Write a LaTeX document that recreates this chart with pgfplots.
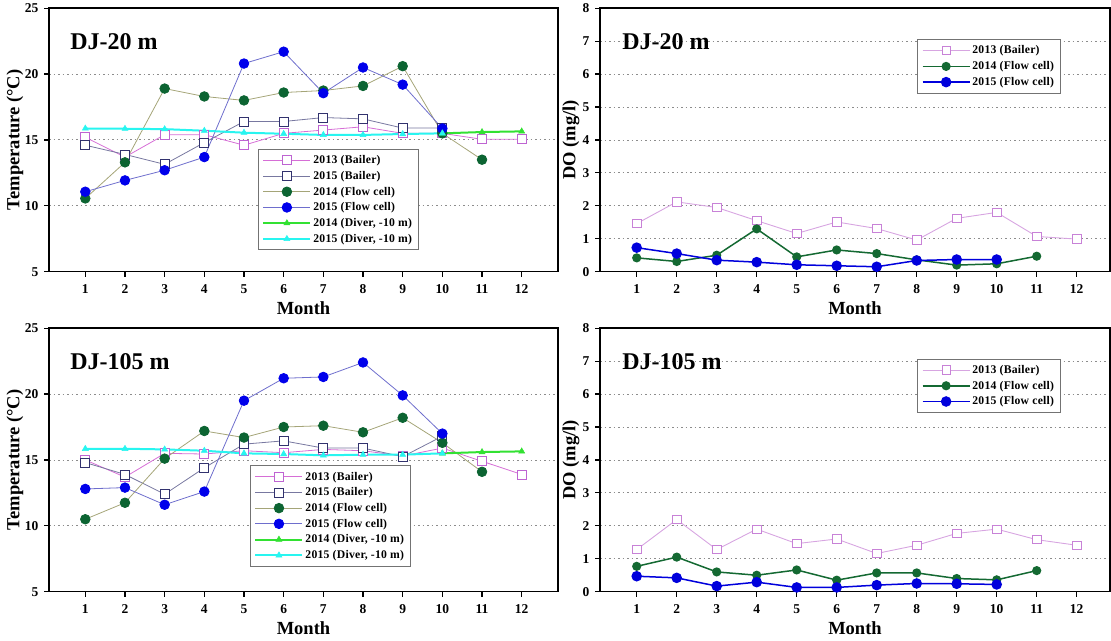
\documentclass[border=0pt]{standalone}
\usepackage{fontspec}
\setmainfont{Liberation Serif}
\usepackage{pgfplots}
\pgfplotsset{compat=1.18}

\definecolor{cAline}{RGB}{214,110,214}
\definecolor{cAmark}{RGB}{190,100,210}
\definecolor{cBline}{RGB}{120,120,160}
\definecolor{cBmark}{RGB}{50,50,110}
\definecolor{cCline}{RGB}{165,165,120}
\definecolor{cCmark}{RGB}{12,100,50}
\definecolor{cDline}{RGB}{110,110,205}
\definecolor{cDmark}{RGB}{0,0,235}
\definecolor{cE}{RGB}{50,225,50}
\definecolor{cF}{RGB}{40,245,240}
\definecolor{dAline}{RGB}{215,165,225}
\definecolor{dAmark}{RGB}{200,130,215}
\definecolor{dC}{RGB}{20,105,50}
\definecolor{dD}{RGB}{0,0,220}

\pgfplotsset{
 legend image code/.code={\draw[mark repeat=2,mark phase=2,#1] plot coordinates {(0pt,0pt) (23.5pt,0pt) (47pt,0pt)};},
 base/.style={scale only axis,
  axis line style={line width=1.5pt},
  tick style={line width=1.2pt, black},
  tick align=outside, major tick length=5pt,
  xtick pos=bottom, ytick pos=left,
  xtick={1,...,12},
  ymajorgrids,
  major grid style={black!45, line width=0.9pt, dash pattern=on 1.5pt off 3pt},
  /pgf/number format/assume math mode=true,
  ticklabel style={font=\fontsize{13.5}{15}\selectfont\bfseries},
  xticklabel style={yshift=-4.5pt},
  yticklabel style={xshift=-2pt},
  label style={font=\fontsize{18.5}{21}\selectfont\bfseries},
  xlabel={Month},
  xlabel style={at={(axis description cs:0.5,-0.14)}, anchor=center},
  legend cell align=left,
  legend style={font=\fontsize{11.7}{13}\selectfont\bfseries\addfontfeature{LetterSpace=2}, draw=black!55, line width=0.8pt,
    anchor=north west, inner xsep=4pt, inner ysep=4pt, row sep=2.1pt,
    nodes={inner sep=2pt, text depth=0.15em}},
 },
 temp/.style={base, width=509pt, height=263.5pt, xmin=0.085, xmax=12.915,
  ymin=5, ymax=25, ytick={5,10,...,25},
  ylabel={Temperature (°C)},
  ylabel style={at={(axis description cs:-0.067,0.5)}, anchor=center}},
 do/.style={base, width=510pt, height=263.5pt, xmin=0.0825, xmax=12.8325,
  ymin=0, ymax=8, ytick={0,...,8},
  ylabel={DO (mg/l)},
  ylabel style={at={(axis description cs:-0.057,0.5)}, anchor=center}},
 sA/.style={color=cAline, line width=0.8pt, mark=square*, mark size=4.5pt, mark options={draw=cAmark, fill=white, line width=0.8pt}},
 sB/.style={color=cBline, line width=0.8pt, mark=square*, mark size=4.5pt, mark options={draw=cBmark, fill=white, line width=0.8pt}},
 sC/.style={color=cCline, line width=0.8pt, mark=*, mark size=4.8pt, mark options={draw=cCmark, fill=cCmark}},
 sD/.style={color=cDline, line width=0.8pt, mark=*, mark size=4.8pt, mark options={draw=cDmark, fill=cDmark}},
 sE/.style={color=cE, line width=2pt, mark=triangle*, mark size=3.5pt, mark options={fill=cE, line width=0.5pt}},
 sF/.style={color=cF, line width=2pt, mark=triangle*, mark size=3.5pt, mark options={fill=cF, line width=0.5pt}},
 tA/.style={color=dAline, line width=0.9pt, mark=square*, mark size=4.2pt, mark options={draw=dAmark, fill=white, line width=0.8pt}},
 tC/.style={color=dC, line width=1.5pt, mark=*, mark size=3.8pt, mark options={draw=dC, fill=dC}},
 tD/.style={color=dD, line width=1.5pt, mark=*, mark size=4.5pt, mark options={draw=dD, fill=dD}},
}

\begin{document}
\begin{tikzpicture}
% ---------- top left ----------
\begin{axis}[temp, at={(49pt,368.3pt)}, anchor=south west,
  legend style={at={(axis description cs:0.4106,0.4653)}}]
\addplot[sA] coordinates {(1,15.2)(2,13.7)(3,15.4)(4,15.4)(5,14.6)(6,15.5)(7,15.75)(8,16.0)(9,15.5)(10,15.5)(11,15.05)(12,15.05)};
\addlegendentry{2013 (Bailer)}
\addplot[sB] coordinates {(1,14.6)(2,13.9)(3,13.15)(4,14.8)(5,16.4)(6,16.4)(7,16.7)(8,16.6)(9,15.9)(10,15.9)};
\addlegendentry{2015 (Bailer)}
\addplot[sC] coordinates {(1,10.56)(2,13.3)(3,18.9)(4,18.3)(5,18.0)(6,18.6)(7,18.75)(8,19.1)(9,20.6)(10,15.5)(11,13.5)};
\addlegendentry{2014 (Flow cell)}
\addplot[sD] coordinates {(1,11.07)(2,11.93)(3,12.7)(4,13.7)(5,20.8)(6,21.7)(7,18.55)(8,20.5)(9,19.2)(10,15.87)};
\addlegendentry{2015 (Flow cell)}
\addplot[sE] coordinates {(10,15.5)(11,15.6)(12,15.65)};
\addlegendentry{2014 (Diver, -10 m)}
\addplot[sF] coordinates {(1,15.87)(2,15.85)(3,15.82)(4,15.7)(5,15.55)(6,15.47)(7,15.38)(8,15.38)(9,15.45)(10,15.5)};
\addlegendentry{2015 (Diver, -10 m)}
\node[anchor=west, font=\fontsize{24}{28}\selectfont\bfseries] at (axis description cs:0.035,0.873) {DJ-20 m};
\end{axis}
% ---------- top right ----------
\begin{axis}[do, at={(600pt,368.3pt)}, anchor=south west,
  legend style={at={(axis description cs:0.6225,0.8813)}}]
\addplot[tA] coordinates {(1,1.46)(2,2.12)(3,1.95)(4,1.55)(5,1.16)(6,1.51)(7,1.31)(8,0.96)(9,1.62)(10,1.8)(11,1.07)(12,0.99)};
\addlegendentry{2013 (Bailer)}
\addplot[tC] coordinates {(1,0.42)(2,0.31)(3,0.5)(4,1.3)(5,0.45)(6,0.66)(7,0.55)(8,0.36)(9,0.2)(10,0.24)(11,0.47)};
\addlegendentry{2014 (Flow cell)}
\addplot[tD] coordinates {(1,0.73)(2,0.55)(3,0.35)(4,0.29)(5,0.21)(6,0.18)(7,0.15)(8,0.34)(9,0.37)(10,0.37)};
\addlegendentry{2015 (Flow cell)}
\node[anchor=west, font=\fontsize{24}{28}\selectfont\bfseries] at (axis description cs:0.037,0.873) {DJ-20 m};
\end{axis}
% ---------- bottom left ----------
\begin{axis}[temp, at={(49pt,48.3pt)}, anchor=south west,
  legend style={at={(axis description cs:0.395,0.479)}}]
\addplot[sA] coordinates {(1,15.0)(2,13.7)(3,15.5)(4,15.45)(5,15.7)(6,15.55)(7,15.8)(8,15.7)(9,15.3)(10,15.9)(11,14.9)(12,13.9)};
\addlegendentry{2013 (Bailer)}
\addplot[sB] coordinates {(1,14.8)(2,13.9)(3,12.4)(4,14.4)(5,16.2)(6,16.45)(7,15.9)(8,15.9)(9,15.25)(10,16.8)};
\addlegendentry{2015 (Bailer)}
\addplot[sC] coordinates {(1,10.5)(2,11.75)(3,15.1)(4,17.2)(5,16.7)(6,17.5)(7,17.6)(8,17.1)(9,18.2)(10,16.3)(11,14.1)};
\addlegendentry{2014 (Flow cell)}
\addplot[sD] coordinates {(1,12.8)(2,12.9)(3,11.6)(4,12.6)(5,19.5)(6,21.2)(7,21.3)(8,22.4)(9,19.9)(10,17.0)};
\addlegendentry{2015 (Flow cell)}
\addplot[sE] coordinates {(10,15.5)(11,15.6)(12,15.65)};
\addlegendentry{2014 (Diver, -10 m)}
\addplot[sF] coordinates {(1,15.85)(2,15.85)(3,15.8)(4,15.7)(5,15.5)(6,15.45)(7,15.35)(8,15.4)(9,15.4)(10,15.5)};
\addlegendentry{2015 (Diver, -10 m)}
\node[anchor=west, font=\fontsize{24}{28}\selectfont\bfseries] at (axis description cs:0.035,0.873) {DJ-105 m};
\end{axis}
% ---------- bottom right ----------
\begin{axis}[do, at={(600pt,48.3pt)}, anchor=south west,
  legend style={at={(axis description cs:0.6225,0.8837)}}]
\addplot[tA] coordinates {(1,1.28)(2,2.19)(3,1.28)(4,1.9)(5,1.46)(6,1.6)(7,1.16)(8,1.41)(9,1.77)(10,1.9)(11,1.58)(12,1.41)};
\addlegendentry{2013 (Bailer)}
\addplot[tC] coordinates {(1,0.77)(2,1.05)(3,0.6)(4,0.5)(5,0.66)(6,0.35)(7,0.57)(8,0.57)(9,0.4)(10,0.36)(11,0.64)};
\addlegendentry{2014 (Flow cell)}
\addplot[tD] coordinates {(1,0.47)(2,0.42)(3,0.17)(4,0.29)(5,0.13)(6,0.13)(7,0.2)(8,0.25)(9,0.24)(10,0.22)};
\addlegendentry{2015 (Flow cell)}
\node[anchor=west, font=\fontsize{24}{28}\selectfont\bfseries] at (axis description cs:0.037,0.873) {DJ-105 m};
\end{axis}
\pgfresetboundingbox
\path[use as bounding box] (0,0) rectangle (1111pt,640pt);
\end{tikzpicture}
\end{document}
